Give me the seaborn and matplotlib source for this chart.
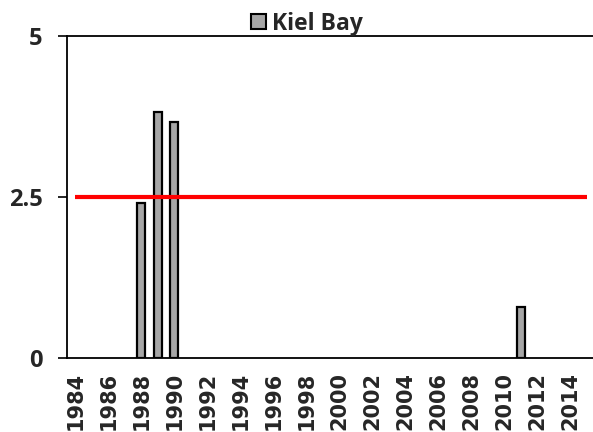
import numpy as np
import pandas as pd
import matplotlib
matplotlib.use('Agg')
import matplotlib.pyplot as plt
import seaborn as sns
from matplotlib.patches import Patch
from matplotlib.font_manager import FontProperties

# Data
years = list(range(1984, 2016))
bar_years = [1988, 1989, 1990, 2011]
bar_values = [2.4, 3.82, 3.67, 0.79]
threshold = 2.5
series_name = 'Kiel Bay'
y_ticks = [0, 2.5, 5]
y_tick_labels = ['0', '2.5', '5']

df = pd.DataFrame({'Year': [str(y) for y in bar_years], 'Value': bar_values})
order = [str(y) for y in years]

sns.set_style('white')
fig = plt.figure(figsize=(5.93, 4.32), dpi=100)
ax = fig.add_axes([67 / 593, 1 - 358 / 432, 528 / 593, 322 / 432])

sns.barplot(data=df, x='Year', y='Value', order=order, color='#A6A6A6',
            width=0.5, edgecolor='black', linewidth=1.6, saturation=1, ax=ax)

# threshold line across all years
ax.hlines(threshold, 0, len(years) - 1, color='#FF0000', linewidth=3)

ax.set_xlim(-0.5, len(years) - 0.5)
ax.set_ylim(0, 5)
ax.set_xlabel('')
ax.set_ylabel('')

# x labels every second year, tick marks between categories
ax.set_xticks(range(0, len(years), 2))
ax.set_xticklabels([str(y) for y in years[::2]], rotation=90)
ax.set_xticks(np.arange(-0.5, len(years)), minor=True)
ax.tick_params(axis='x', which='major', length=0, pad=10)
ax.tick_params(axis='x', which='minor', length=6.5, width=1.2, direction='out',
               color='black')

ax.set_yticks(y_ticks)
ax.set_yticklabels(y_tick_labels)
ax.tick_params(axis='y', length=6.5, width=1.2, direction='out', color='black',
               pad=11, left=True)

xfont = FontProperties(family='DejaVu Sans', weight='bold', size=15)
yfont = FontProperties(family='Open Sans', weight='bold', size=17)
for lab in ax.get_xticklabels():
    lab.set_fontproperties(xfont)
for lab in ax.get_yticklabels():
    lab.set_fontproperties(yfont)

for side in ['left', 'bottom', 'top']:
    ax.spines[side].set_visible(True)
    ax.spines[side].set_color('black')
    ax.spines[side].set_linewidth(1.3)
ax.spines['right'].set_visible(False)

handle = Patch(facecolor='#A6A6A6', edgecolor='black', linewidth=1.5)
fig.legend([handle], [series_name], loc='center', bbox_to_anchor=(0.518, 0.945),
           frameon=False, handlelength=0.65, handleheight=0.65, handletextpad=0.25,
           prop={'family': 'Open Sans', 'weight': 'bold', 'size': 16.5})

fig.savefig('out.png', dpi=100)
